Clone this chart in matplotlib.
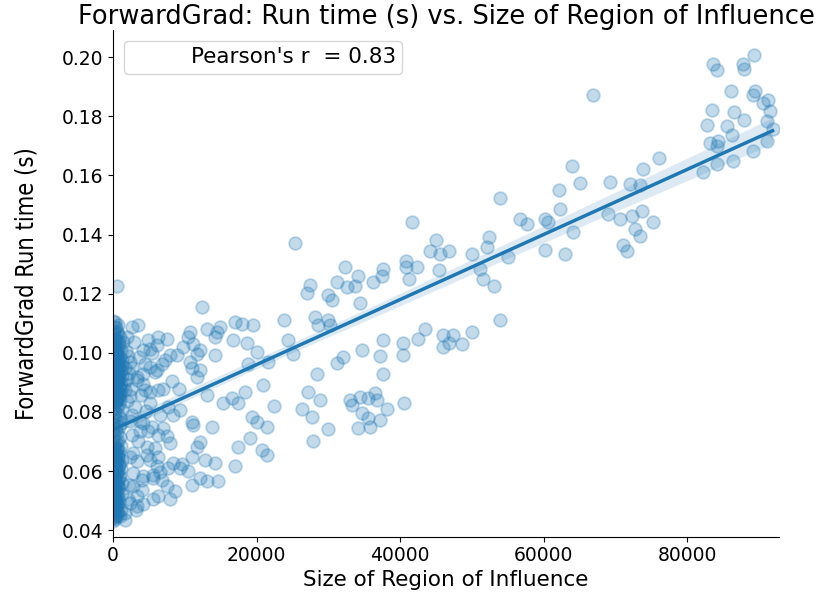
import matplotlib
matplotlib.use("Agg")
import matplotlib.pyplot as plt
import numpy as np
import seaborn as sns

plt.rcParams["font.family"] = "DejaVu Sans"

# region-of-influence size vs ForwardGrad run time (s)
# points spread out along the trend
roi_spread = [
    83600, 84180, 87800, 87900, 89290, 86090, 89430, 89190, 91200, 90590,
    91520, 83400, 86550, 87900, 82790, 85490, 86180, 91060, 91900, 83160,
    84320, 84100, 89190, 91060, 86410, 84180, 82140, 76100, 73790, 69230,
    72020, 73410, 69000, 70630, 72250, 73650, 75260, 72710, 73410, 66910,
    63900, 65050, 62170, 62270, 60180, 57630, 64120, 60180, 62960, 56700,
    71000, 71560, 60600, 53910, 41610, 44990, 44160, 45550, 46850, 40810,
    40810, 42310, 45450, 41270, 49970, 52420, 52140, 55070, 51120, 51500,
    53070, 53910, 43460, 42530, 40360, 40440, 46010, 46850, 47400, 48570,
    46010, 49970, 40540, 25350, 32320, 27440, 26980, 31160, 32550, 33710,
    34170, 36260, 37650, 37430, 29990, 30460, 34410, 23820, 28140, 28600,
    29990, 30230, 24420, 25120, 37650, 34640, 32080, 31160, 37190, 28460,
    37650, 27200, 28840, 26290, 27680, 33010, 33250, 34410, 36500, 36730,
    35560, 38130, 34640, 35560, 37190, 34170, 35800, 29990, 27900, 16990,
    17930, 19540, 16760, 18620, 20020, 21630, 18850, 20940, 18390, 16530,
    17450, 22470, 19320, 20020, 21410, 19080, 17450, 20710, 21410, 16990,
    12360, 2600, 3520, 6310, 7480, 10730, 10490, 13050, 14450, 14210,
    14910, 4220, 5150, 7940, 8870, 7240, 9790, 11190, 12120, 11660,
    14210, 10730, 10960, 12120, 11660, 5150, 6090, 4220, 3300, 4220,
    6310, 7010, 4460, 5150, 13050, 15280, 9330, 8400, 6550, 2600,
    4220, 5390, 7010, 4920, 3760, 10960, 11190, 13750, 6310, 7480,
    12120, 11660, 4690, 5850, 7940, 2370, 3300, 5150, 6310, 6090,
    8400, 9570, 9330, 7700, 10960, 10490, 12820, 14210, 2830, 4220,
    5610, 6780, 12120, 13050, 14670, 10960, 8640, 2830, 4000, 3300,
    6310, 5610, 7940, 2370, 3300, 4220, 1670, 980, 1910, 1430,
    520, 280,
]
time_spread = [
    0.1976, 0.1957, 0.1976, 0.1960, 0.2008, 0.1886, 0.1884, 0.1871, 0.1856, 0.1845,
    0.1817, 0.1822, 0.1814, 0.1786, 0.1770, 0.1766, 0.1738, 0.1783, 0.1758, 0.1710,
    0.1716, 0.1699, 0.1682, 0.1716, 0.1648, 0.1637, 0.1611, 0.1659, 0.1622, 0.1578,
    0.1572, 0.1568, 0.1471, 0.1452, 0.1463, 0.1478, 0.1441, 0.1418, 0.1396, 0.1873,
    0.1631, 0.1575, 0.1550, 0.1486, 0.1452, 0.1435, 0.1407, 0.1348, 0.1334, 0.1452,
    0.1366, 0.1345, 0.1441, 0.1524, 0.1441, 0.1381, 0.1343, 0.1334, 0.1343, 0.1312,
    0.1289, 0.1289, 0.1281, 0.1250, 0.1334, 0.1392, 0.1359, 0.1323, 0.1284, 0.1250,
    0.1227, 0.1110, 0.1082, 0.1048, 0.1033, 0.0992, 0.1059, 0.1033, 0.1059, 0.1031,
    0.1020, 0.1070, 0.0831, 0.1370, 0.1289, 0.1231, 0.1201, 0.1241, 0.1224, 0.1227,
    0.1261, 0.1241, 0.1284, 0.1261, 0.1194, 0.1179, 0.1168, 0.1110, 0.1121, 0.1093,
    0.1112, 0.1093, 0.1042, 0.0997, 0.1042, 0.1009, 0.0986, 0.0964, 0.0988, 0.0930,
    0.0930, 0.0868, 0.0840, 0.0809, 0.0782, 0.0840, 0.0823, 0.0851, 0.0863, 0.0840,
    0.0846, 0.0809, 0.0795, 0.0779, 0.0773, 0.0745, 0.0750, 0.0742, 0.0703, 0.1104,
    0.1098, 0.1093, 0.1042, 0.1033, 0.1003, 0.0969, 0.0961, 0.0891, 0.0868, 0.0846,
    0.0829, 0.0820, 0.0784, 0.0767, 0.0750, 0.0711, 0.0683, 0.0672, 0.0655, 0.0616,
    0.1154, 0.1087, 0.1093, 0.1053, 0.1048, 0.1070, 0.1053, 0.1082, 0.1070, 0.1053,
    0.1087, 0.1009, 0.1014, 0.0992, 0.0992, 0.0975, 0.1020, 0.1031, 0.1009, 0.0997,
    0.0992, 0.0969, 0.0947, 0.0941, 0.0919, 0.0952, 0.0941, 0.0930, 0.0908, 0.0896,
    0.0874, 0.0876, 0.0874, 0.0868, 0.0857, 0.0831, 0.0807, 0.0790, 0.0790, 0.0790,
    0.0762, 0.0750, 0.0745, 0.0734, 0.0734, 0.0767, 0.0756, 0.0748, 0.0722, 0.0717,
    0.0700, 0.0683, 0.0683, 0.0678, 0.0694, 0.0649, 0.0633, 0.0638, 0.0649, 0.0616,
    0.0627, 0.0625, 0.0610, 0.0610, 0.0649, 0.0599, 0.0638, 0.0627, 0.0593, 0.0582,
    0.0577, 0.0571, 0.0577, 0.0565, 0.0565, 0.0554, 0.0531, 0.0548, 0.0537, 0.0515,
    0.0515, 0.0504, 0.0504, 0.0492, 0.0481, 0.0487, 0.0459, 0.0447, 0.1053, 0.1037,
    0.1227, 0.1104,
]

# small regions packed against the axis
roi_small = [
    60, 320, 150, 750, 0, 450, 1050, 220, 600, 30,
    390, 900, 120, 680, 260, 1200, 10, 520, 190, 820,
    100, 470, 1300, 40, 700, 300, 950, 170, 570, 0,
    350, 1100, 220, 800, 70, 500, 1250, 140, 420, 650,
    20, 870, 280, 550, 1150, 110, 410, 720, 40, 1000,
    200, 620, 0, 350, 770, 160, 1070, 20, 480, 920,
    90, 700, 310, 1220, 10, 560, 240, 850, 130, 440,
    1020, 70, 650, 270, 970, 30, 500, 1170, 210, 380,
    800, 50, 1120, 340, 600, 0, 900, 180, 470, 1250,
    110, 720, 290, 1050, 30, 510, 850, 150, 1300, 410,
    80, 670, 1200, 250, 950, 10, 570, 370, 1100, 200,
    620, 40, 820, 330, 1000, 120, 520, 220, 750, 60,
    2900, 3600, 4500, 5400, 2700, 3300, 6100, 4900, 2500, 3900,
    5800, 6800, 3100, 4600, 2300, 3500, 2800, 4000, 2200, 3200,
    5600, 4800, 6600, 7500, 3700, 5200, 2600, 8200, 9200, 7600,
    2100, 1700,
    40, 510, 230, 880, 0, 350, 720, 120, 600, 20,
    300, 820, 90, 460, 170, 650, 0, 390, 760, 60,
    540, 250, 900, 10, 430, 140, 690, 330, 30, 570,
    200, 850, 70, 480, 280, 740, 0, 400, 150, 620,
    50, 330, 800, 110, 560, 240, 0, 690, 180, 420,
    1500, 1900, 2200, 1700, 2400, 2050, 1800, 1600, 2300, 1950,
    20, 380, 150, 700, 0, 260, 540, 90, 430, 10,
    610, 200, 30, 480, 320, 0, 760, 120, 560, 60,
    290, 820, 0, 410, 170, 650, 40, 350, 900, 110,
    500, 0, 230, 680, 80, 440, 140, 590, 20, 300,
]
time_small = [
    0.0432, 0.0438, 0.0445, 0.0451, 0.0458, 0.0463, 0.0469, 0.0474, 0.0481, 0.0486,
    0.0492, 0.0497, 0.0503, 0.0509, 0.0514, 0.0521, 0.0526, 0.0532, 0.0537, 0.0543,
    0.0548, 0.0554, 0.0559, 0.0565, 0.0571, 0.0576, 0.0582, 0.0588, 0.0593, 0.0599,
    0.0604, 0.0611, 0.0616, 0.0622, 0.0627, 0.0633, 0.0638, 0.0644, 0.0651, 0.0656,
    0.0662, 0.0667, 0.0673, 0.0679, 0.0684, 0.0691, 0.0697, 0.0703, 0.0709, 0.0716,
    0.0722, 0.0729, 0.0735, 0.0742, 0.0748, 0.0755, 0.0761, 0.0768, 0.0774, 0.0781,
    0.0787, 0.0793, 0.0799, 0.0805, 0.0811, 0.0816, 0.0822, 0.0827, 0.0833, 0.0838,
    0.0843, 0.0847, 0.0852, 0.0856, 0.0861, 0.0865, 0.0869, 0.0873, 0.0878, 0.0882,
    0.0886, 0.0891, 0.0895, 0.0899, 0.0903, 0.0907, 0.0911, 0.0915, 0.0919, 0.0923,
    0.0927, 0.0931, 0.0935, 0.0939, 0.0943, 0.0947, 0.0951, 0.0955, 0.0959, 0.0963,
    0.0967, 0.0972, 0.0976, 0.0981, 0.0986, 0.0991, 0.0996, 0.1002, 0.1008, 0.1014,
    0.1021, 0.1028, 0.1036, 0.1044, 0.1053, 0.1062, 0.1072, 0.1083, 0.1095, 0.1108,
    0.1035, 0.0985, 0.0962, 0.0998, 0.0948, 0.0918, 0.1025, 0.1042, 0.0879, 0.0858,
    0.0935, 0.0963, 0.0816, 0.0802, 0.0768, 0.0703, 0.0661, 0.0571, 0.0552, 0.0469,
    0.0588, 0.0655, 0.0597, 0.0549, 0.0768, 0.0830, 0.0721, 0.0903, 0.0878, 0.0818,
    0.0505, 0.0435,
    0.0834, 0.0839, 0.0844, 0.0849, 0.0854, 0.0858, 0.0863, 0.0867, 0.0871, 0.0876,
    0.0880, 0.0884, 0.0889, 0.0893, 0.0897, 0.0901, 0.0905, 0.0909, 0.0913, 0.0917,
    0.0921, 0.0925, 0.0929, 0.0933, 0.0937, 0.0941, 0.0945, 0.0949, 0.0953, 0.0957,
    0.0961, 0.0965, 0.0969, 0.0974, 0.0978, 0.0983, 0.0988, 0.0993, 0.0998, 0.1004,
    0.1010, 0.1017, 0.1024, 0.1031, 0.1039, 0.1047, 0.1056, 0.1065, 0.1075, 0.1086,
    0.0893, 0.0912, 0.0931, 0.0950, 0.0969, 0.0988, 0.1007, 0.0874, 0.0855, 0.0836,
    0.0441, 0.0449, 0.0456, 0.0466, 0.0472, 0.0479, 0.0489, 0.0495, 0.0501, 0.0507,
    0.0518, 0.0524, 0.0529, 0.0535, 0.0541, 0.0546, 0.0551, 0.0557, 0.0562, 0.0568,
    0.0574, 0.0579, 0.0585, 0.0591, 0.0597, 0.0602, 0.0608, 0.0614, 0.0619, 0.0625,
    0.0630, 0.0636, 0.0642, 0.0647, 0.0653, 0.0659, 0.0665, 0.0670, 0.0676, 0.0682,
]

pearson_r = 0.83

roi_size = np.array(roi_spread + roi_small)
run_time = np.array(time_spread + time_small)

fig = plt.figure(figsize=(8.33, 5.92), dpi=100)
ax = fig.add_axes([0.1357, 0.0934, 0.7995, 0.856])

sns.regplot(
    x=roi_size,
    y=run_time,
    ax=ax,
    color="#1f77b4",
    n_boot=500,
    seed=0,
    scatter_kws={"s": 85, "alpha": 0.27, "linewidths": 1.3},
    line_kws={"lw": 2.5},
)
ax.plot([], [], " ", label=f"Pearson's r  = {pearson_r:.2f}")

ax.set_xlim(0, 92800)
ax.set_ylim(0.0378, 0.2092)
ax.set_xticks([0, 20000, 40000, 60000, 80000])
ax.set_yticks(np.arange(0.04, 0.201, 0.02))
ax.yaxis.set_major_formatter(matplotlib.ticker.FormatStrFormatter("%.2f"))
ax.tick_params(labelsize=13.5)

ax.set_xlabel("Size of Region of Influence", fontsize=15.5, labelpad=3)
ax.set_ylabel("ForwardGrad Run time (s)", fontsize=17, labelpad=17,
              fontstretch="condensed")
ax.set_title("ForwardGrad: Run time (s) vs. Size of Region of Influence",
             fontsize=18.5, pad=3)
ax.legend(loc="upper left", fontsize=15.5, borderpad=0.3)
sns.despine(ax=ax)

fig.savefig("out.png", dpi=100)
